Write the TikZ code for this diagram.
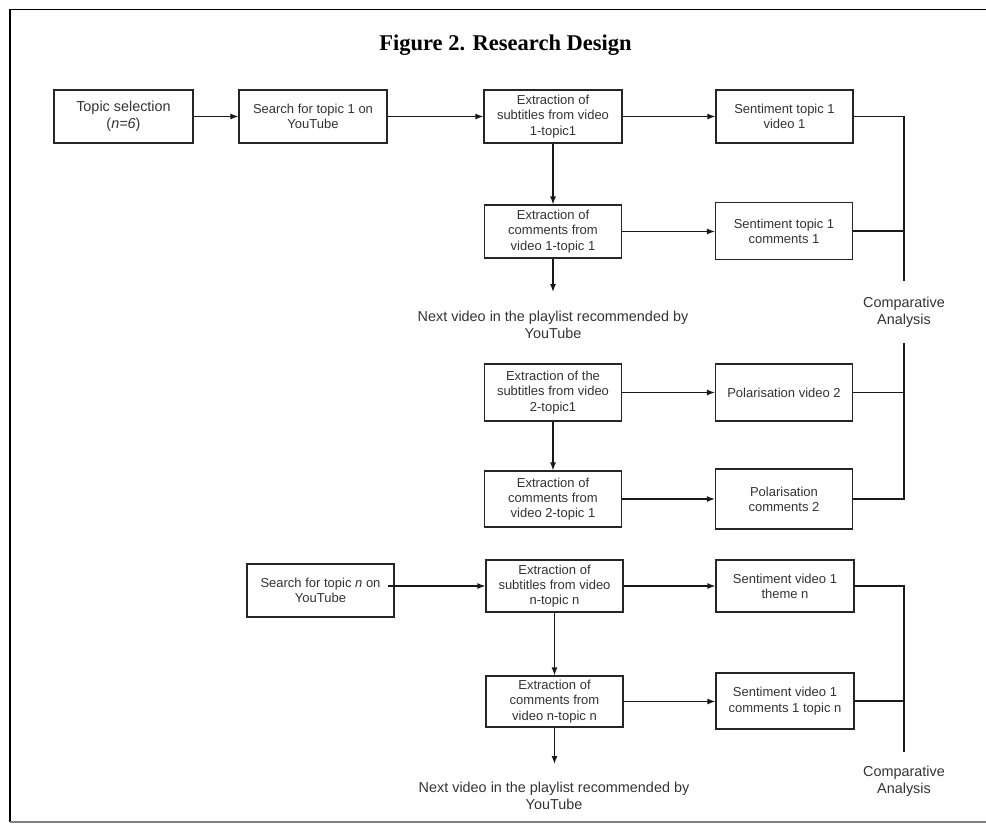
\documentclass[tikz,border=0pt]{standalone}
\usepackage{fontspec}
\setmainfont{Liberation Sans}
\newfontfamily\titlefont{Liberation Serif}
\usetikzlibrary{arrows.meta}
\begin{document}
\begin{tikzpicture}[x=1pt,y=-1pt,
  box/.style={draw=black!85, line width=1.2pt, fill=white, align=center, inner sep=0pt,
    font=\fontsize{13}{15.3}\selectfont, text=black!80},
  conn/.style={draw=black!90, line width=1.2pt},
  arr/.style={conn, -{Latex[length=8pt,width=6pt]}},
  plain/.style={align=center, inner sep=0pt, font=\fontsize{14.4}{17}\selectfont, text=black!80}]
\useasboundingbox (0,0) rectangle (986,823);
% frame
\draw[line width=1.6pt] (986,9.5) -- (10,9.5) -- (10,822);
\draw[black!50, line width=1.2pt] (10,822) -- (986,822);
% title
\node[anchor=base, font=\titlefont\bfseries\fontsize{22.5}{27}\selectfont] (title) at (505.5,50) {Figure 2. Research Design};
% row 1
\node[box, minimum width=139, minimum height=53, font=\fontsize{14.4}{17}\selectfont] (b1) at (123.5,116.5) {Topic selection\\(\textit{n=6})};
\node[box, minimum width=148, minimum height=53] (b2) at (313,116.5) {Search for topic 1 on\\YouTube};
\node[box, minimum width=138, minimum height=53] (b3) at (553,116.5) {Extraction of\\subtitles from video\\1-topic1};
\node[box, minimum width=137, minimum height=53] (b4) at (784.5,116.5) {Sentiment topic 1\\video 1};
% row 2
\node[box, minimum width=137, minimum height=53] (b5) at (553,231.5) {Extraction of\\comments from\\video 1-topic 1};
\node[box, minimum width=137, minimum height=57] (b6) at (784,231) {Sentiment topic 1\\comments 1};
\coordinate (e1) at (553,292);
\node[plain] (nx1) at (553,325) {Next video in the playlist recommended by\\YouTube};
\node[plain, minimum height=62] (ca1) at (904,312) {Comparative\\Analysis};
% row 3
\node[box, minimum width=137, minimum height=57] (b7) at (553,392.5) {Extraction of the\\subtitles from video\\2-topic1};
\node[box, minimum width=137, minimum height=57] (b8) at (784,392.5) {Polarisation video 2};
% row 4
\node[box, minimum width=137, minimum height=56] (b9) at (553,499) {Extraction of\\comments from\\video 2-topic 1};
\node[box, minimum width=137, minimum height=60] (b10) at (784,499) {Polarisation\\comments 2};
% row 5
\node[box, minimum width=147, minimum height=53] (b11) at (320.5,590.5) {Search for topic \textit{n} on\\YouTube};
\node[box, minimum width=137, minimum height=52] (b12) at (554.5,586) {Extraction of\\subtitles from video\\n-topic n};
\node[box, minimum width=138, minimum height=52] (b13) at (785,586) {Sentiment video 1\\theme n};
% row 6
\node[box, minimum width=137, minimum height=51] (b14) at (554.5,701.5) {Extraction of\\comments from\\video n-topic n};
\node[box, minimum width=138, minimum height=56] (b15) at (785,701) {Sentiment video 1\\comments 1 topic n};
\coordinate (e2) at (554.5,764);
\node[plain] (nx2) at (554,795.5) {Next video in the playlist recommended by\\YouTube};
\node[plain, minimum height=59] (ca2) at (904,781.5) {Comparative\\Analysis};
% connectors group 1
\draw[arr] (b1) -- (b2);
\draw[arr] (b2) -- (b3);
\draw[arr] (b3) -- (b4);
\draw[arr] (b3) -- (b5);
\draw[arr] (b5.east) -- (b5.east -| b6.west);
\draw[arr] (b5) -- (e1);
\draw[conn] (b4.east) -| (ca1.north);
\draw[conn] (b6.east) -- (b6.east -| ca1.north);
\draw[arr] (b7) -- (b8);
\draw[arr] (b7) -- (b9);
\draw[arr] (b9.east) -- (b9.east -| b10.west);
\draw[conn] (b8.east) -- (b8.east -| ca1.south);
\draw[conn] (b10.east) -| (ca1.south);
% connectors group 2
\draw[arr] ([xshift=-7pt]b11.east |- b12.west) -- (b12.west);
\draw[arr] (b12) -- (b13);
\draw[arr] (b12) -- (b14);
\draw[arr] (b14.east) -- (b14.east -| b15.west);
\draw[arr] (b14) -- (e2);
\draw[conn] (b13.east) -| (ca2.north);
\draw[conn] (b15.east) -- (b15.east -| ca2.north);
\end{tikzpicture}
\end{document}
